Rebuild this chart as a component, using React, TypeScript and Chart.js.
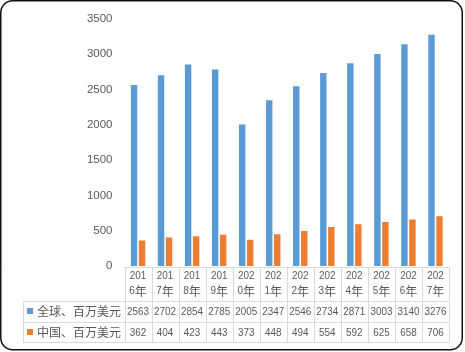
import React, { useEffect, useRef } from "react";
import { Chart, registerables } from "chart.js";

Chart.register(...registerables);

const categoryTop = ["201", "201", "201", "201", "202", "202", "202", "202", "202", "202", "202", "202"];
const categoryBottom = ["6年", "7年", "8年", "9年", "0年", "1年", "2年", "3年", "4年", "5年", "6年", "7年"];
const seriesNames = ["全球、百万美元", "中国、百万美元"];
const globalValues = [2563, 2702, 2854, 2785, 2005, 2347, 2546, 2734, 2871, 3003, 3140, 3276];
const chinaValues = [362, 404, 423, 443, 373, 448, 494, 554, 592, 625, 658, 706];
const seriesColors = ["#5b9bd5", "#ed7d31"];

const NUM_FONT = '"Liberation Sans", Arial, sans-serif';
const CJK_FONT = '"Noto Sans CJK SC", "Noto Sans", sans-serif';
const TEXT = "#595959";

const tablePlugin = {
  id: "dataTable",
  afterDraw(chart: any) {
    const ctx = chart.ctx as CanvasRenderingContext2D;
    const area = chart.chartArea;
    const n = categoryTop.length;
    const w = (area.right - area.left) / n;
    const y0 = area.bottom + 1;
    const y1 = y0 + 33.7;
    const y2 = y1 + 21;
    const y3 = y2 + 20.6;
    const legLeft = 23;
    ctx.save();
    ctx.strokeStyle = "#d9d9d9";
    ctx.lineWidth = 1;
    const hline = (x1: number, x2: number, y: number) => {
      ctx.beginPath();
      ctx.moveTo(x1, Math.round(y) + 0.5);
      ctx.lineTo(x2, Math.round(y) + 0.5);
      ctx.stroke();
    };
    const vline = (x: number, ya: number, yb: number) => {
      ctx.beginPath();
      ctx.moveTo(Math.round(x) + 0.5, ya);
      ctx.lineTo(Math.round(x) + 0.5, yb);
      ctx.stroke();
    };
    hline(area.left, area.right, y0);
    hline(legLeft, area.right, y1);
    hline(legLeft, area.right, y2);
    hline(legLeft, area.right, y3);
    vline(legLeft, Math.round(y1) + 0.5, Math.round(y3) + 0.5);
    for (let i = 0; i <= n; i++) {
      vline(area.left + i * w, Math.round(y0) + 0.5, Math.round(y3) + 0.5);
    }
    ctx.fillStyle = TEXT;
    ctx.textBaseline = "middle";
    const xs = chart.scales.x;
    const drawNum = (s: string, cx: number, cy: number) => {
      ctx.save();
      ctx.font = `11px ${NUM_FONT}`;
      ctx.textAlign = "center";
      ctx.translate(cx, cy);
      ctx.scale(0.9, 1);
      ctx.fillText(s, 0, 0);
      ctx.restore();
    };
    for (let i = 0; i < n; i++) {
      const cx = xs.getPixelForValue(i);
      drawNum(categoryTop[i], cx, y0 + 8.5);
      const t = categoryBottom[i];
      const d = t.slice(0, t.length - 1);
      ctx.font = `11px ${NUM_FONT}`;
      const ddw = ctx.measureText(d).width * 0.9;
      ctx.font = `12px ${CJK_FONT}`;
      const yw = ctx.measureText("年").width;
      const total = ddw + yw;
      drawNum(d, cx - total / 2 + ddw / 2, y0 + 24);
      ctx.textAlign = "left";
      ctx.font = `12px ${CJK_FONT}`;
      ctx.fillText("年", cx - total / 2 + ddw, y0 + 24);
      drawNum(String(globalValues[i]), cx, (y1 + y2) / 2 + 0.5);
      drawNum(String(chinaValues[i]), cx, (y2 + y3) / 2 + 0.5);
    }
    // legend column
    const rows = [(y1 + y2) / 2, (y2 + y3) / 2];
    rows.forEach((cy, k) => {
      ctx.fillStyle = seriesColors[k];
      ctx.fillRect(27, Math.round(cy) - 3, 6, 6);
      ctx.fillStyle = TEXT;
      ctx.textAlign = "left";
      ctx.font = `12px ${CJK_FONT}`;
      ctx.fillText(seriesNames[k], 37, cy + 0.5);
    });
    // frame
    ctx.strokeStyle = "#111";
    ctx.lineWidth = 1.5;
    ctx.beginPath();
    (ctx as any).roundRect(0.75, 0.75, 461.5, 349, 12);
    ctx.stroke();
    ctx.restore();
  },
};

export default function App() {
  const ref = useRef<HTMLCanvasElement | null>(null);
  useEffect(() => {
    if (!ref.current) return;
    const chart = new Chart(ref.current, {
      type: "bar",
      data: {
        labels: categoryTop.map((t, i) => t + categoryBottom[i]),
        datasets: [
          {
            label: seriesNames[0],
            data: globalValues,
            backgroundColor: seriesColors[0],
            categoryPercentage: 0.593,
            barPercentage: 0.8,
          },
          {
            label: seriesNames[1],
            data: chinaValues,
            backgroundColor: seriesColors[1],
            categoryPercentage: 0.593,
            barPercentage: 0.8,
          },
        ],
      },
      options: {
        responsive: false,
        animation: false,
        layout: { padding: { top: 14, right: 16, bottom: 86, left: 0 } },
        plugins: { legend: { display: false }, tooltip: { enabled: false } },
        scales: {
          x: { display: false, offset: true },
          y: {
            min: 0,
            max: 3500,
            border: { display: false },
            grid: { display: false, drawTicks: false },
            ticks: {
              stepSize: 500,
              padding: 12,
              color: TEXT,
              font: { size: 11.5, family: NUM_FONT },
              callback: (v: any) => String(v),
            },
            afterFit(scale: any) {
              scale.width = 124.5;
            },
          },
        },
      },
      plugins: [tablePlugin],
    });
    return () => chart.destroy();
  }, []);
  return (
    <div style={{ position: "fixed", left: 0, top: 0, width: 465, height: 352, background: "#fff" }}>
      <canvas ref={ref} width={465} height={352} />
    </div>
  );
}
